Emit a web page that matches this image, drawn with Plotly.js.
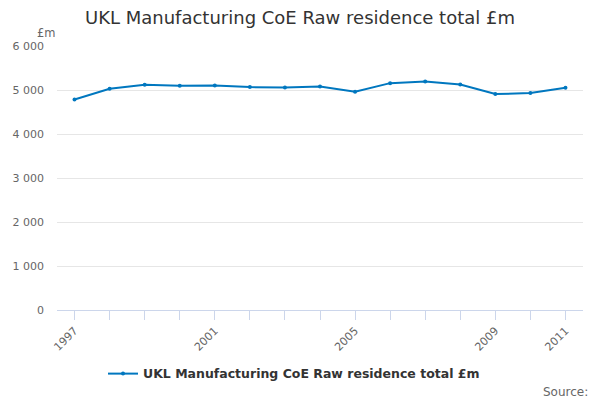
<!DOCTYPE html>
<html>
<head>
<meta charset="utf-8">
<script src="https://cdn.plot.ly/plotly-3.0.1.min.js"></script>
<style>
  html, body { margin: 0; padding: 0; background: #fff; }
  #chart { width: 600px; height: 400px; }
</style>
</head>
<body>
<div id="chart"></div>
<script>
// years and values (£m)
var years = [1997, 1998, 1999, 2000, 2001, 2002, 2003, 2004, 2005, 2006, 2007, 2008, 2009, 2010, 2011];
var values = [4786, 5028, 5118, 5096, 5103, 5066, 5058, 5081, 4960, 5156, 5194, 5126, 4908, 4930, 5051];
var labelYears = [1997, 2001, 2005, 2009, 2011];
var seriesName = 'UKL Manufacturing CoE Raw residence total £m';

var fontFam = '"DejaVu Sans", sans-serif';

var ticktext = years.map(function (y) {
    return labelYears.indexOf(y) >= 0 ? String(y) : '';
});

var data = [{
    x: years,
    y: values,
    type: 'scatter',
    mode: 'lines+markers',
    name: seriesName,
    line: { color: '#0077bf', width: 2 },
    marker: { color: '#0077bf', size: 4 }
}];

var layout = {
    width: 600,
    height: 400,
    separators: '. ',
    font: { family: fontFam, color: '#666666', size: 11 },
    paper_bgcolor: '#ffffff',
    plot_bgcolor: '#ffffff',
    showlegend: true,
    margin: { l: 57, r: 17, t: 46, b: 88.5, pad: 0 },
    title: {
        text: 'UKL Manufacturing CoE Raw residence total £m',
        font: { family: fontFam, size: 18, color: '#333333' },
        x: 0.5,
        xanchor: 'center',
        y: 0.955,
        yanchor: 'middle'
    },
    xaxis: {
        range: [1996.5, 2011.5],
        tickvals: years,
        ticktext: ticktext,
        tickangle: -45,
        ticks: 'outside',
        ticklen: 9,
        tickcolor: '#ccd6eb',
        showgrid: false,
        showline: true,
        linecolor: '#ccd6eb',
        linewidth: 1,
        zeroline: false,
        fixedrange: true
    },
    yaxis: {
        range: [0, 6000],
        tickvals: [0, 1000, 2000, 3000, 4000, 5000, 6000],
        tickformat: ',d',
        showgrid: true,
        gridcolor: '#e6e6e6',
        zeroline: false,
        showline: false,
        ticks: '',
        ticklabelstandoff: 12,
        fixedrange: true
    },
    legend: {
        orientation: 'h',
        x: 0.4506,
        xref: 'paper',
        xanchor: 'center',
        y: -0.2377,
        yanchor: 'middle',
        font: { family: fontFam, size: 12.5, color: '#333333', weight: 'bold' }
    },
    annotations: [{
        text: '£m',
        xref: 'paper', yref: 'paper',
        x: -0.0198, y: 1.05,
        xanchor: 'center', yanchor: 'middle',
        showarrow: false,
        font: { family: fontFam, size: 11.5, color: '#666666' }
    }, {
        text: 'Source:',
        xref: 'paper', yref: 'paper',
        x: 1.013, y: -0.311,
        xanchor: 'right', yanchor: 'middle',
        showarrow: false,
        font: { family: fontFam, size: 12, color: '#666666' }
    }]
};

Plotly.newPlot('chart', data, layout, { displayModeBar: false, staticPlot: true });
</script>
</body>
</html>
